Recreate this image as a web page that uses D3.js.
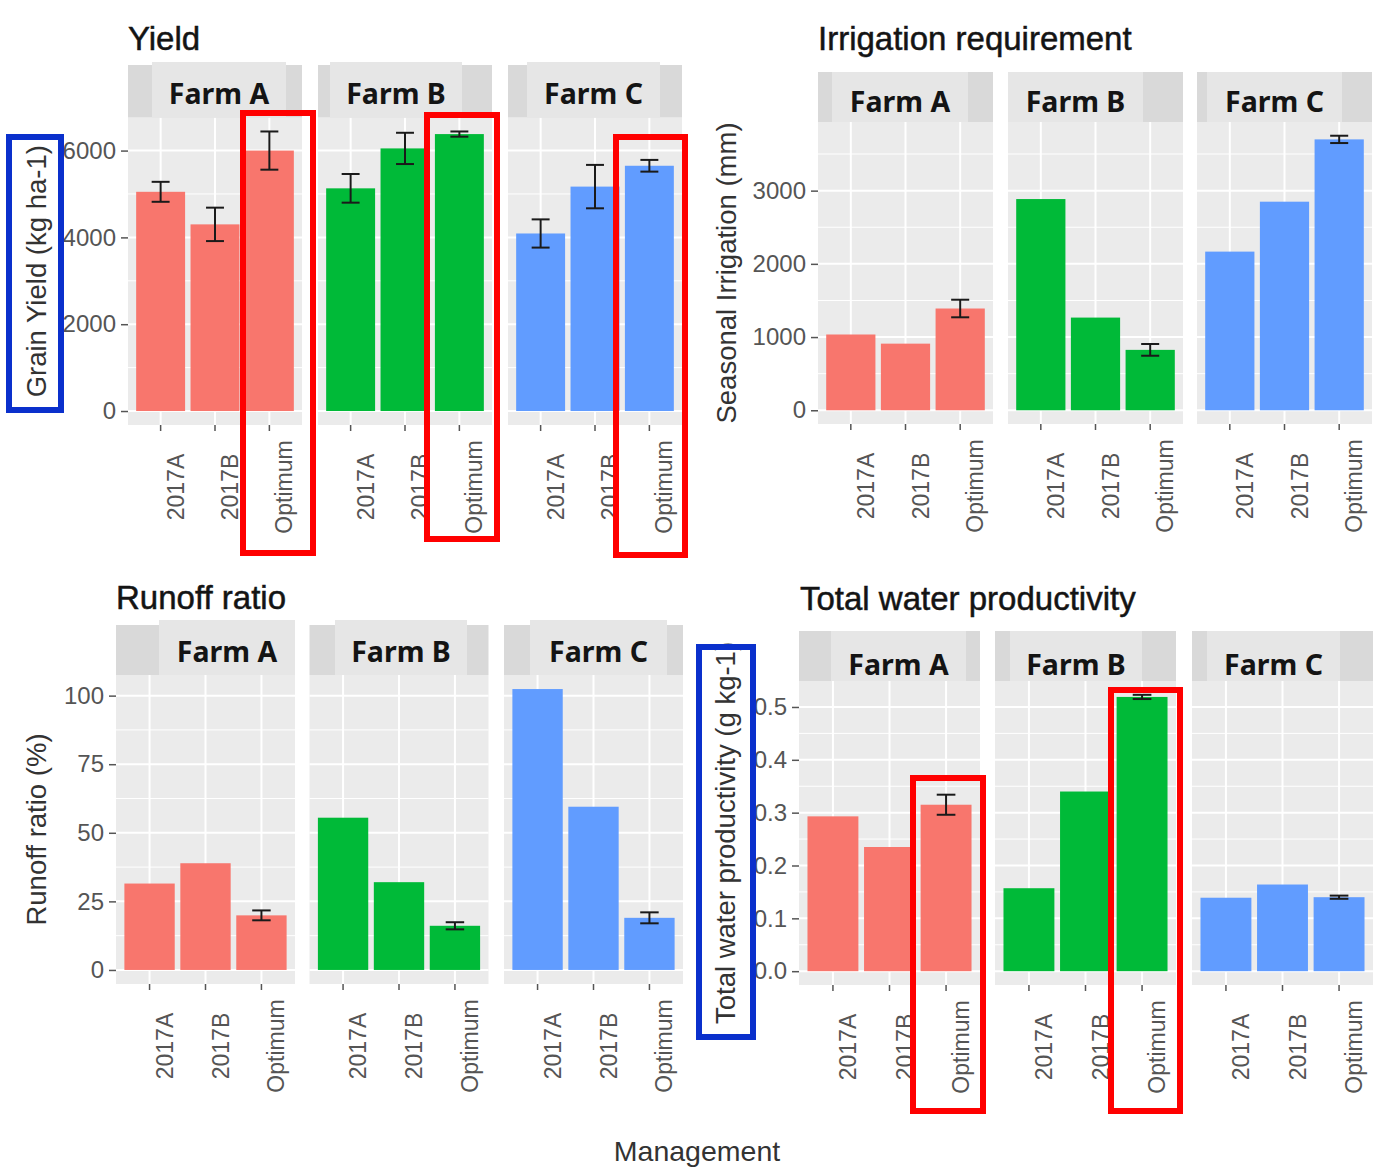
<!DOCTYPE html>
<html>
<head>
<meta charset="utf-8">
<script src="https://cdn.jsdelivr.net/npm/d3@7"></script>
<style>
  body { margin: 0; background: #fff; }
  svg { display: block; }
</style>
</head>
<body>
<svg id="chart" width="1384" height="1175"></svg>
<script>
// ---------------- DATA ----------------
const farms = ["Farm A", "Farm B", "Farm C"];
const management = ["2017A", "2017B", "Optimum"];
const farmColors = ["#F8766D", "#00BA38", "#619CFF"];

const yieldValues = [[5050, 4300, 6000], [5130, 6050, 6380], [4090, 5170, 5650]];
const yieldErrors = [[230, 385, 440], [330, 360, 60], [325, 500, 135]];
const yieldTicks = [0, 2000, 4000, 6000];

const irrigationValues = [[1035, 910, 1390], [2885, 1266, 825], [2167, 2849, 3700]];
const irrigationErrors = [[null, null, 120], [null, null, 80], [null, null, 50]];
const irrigationTicks = [0, 1000, 2000, 3000];

const runoffValues = [[31.5, 38.9, 19.9], [55.5, 32.0, 16.1], [102.4, 59.5, 19.0]];
const runoffErrors = [[null, null, 1.8], [null, null, 1.3], [null, null, 2.0]];
const runoffTicks = [0, 25, 50, 75, 100];

const twpValues = [[0.293, 0.235, 0.315], [0.157, 0.340, 0.519], [0.139, 0.164, 0.140]];
const twpErrors = [[null, null, 0.019], [null, null, 0.004], [null, null, 0.003]];
const twpTicks = [0, 0.1, 0.2, 0.3, 0.4, 0.5];

const plotTitles = ["Yield", "Irrigation requirement", "Runoff ratio", "Total water productivity"];
const yTitles = ["Grain Yield (kg ha-1)", "Seasonal Irrigation (mm)", "Runoff ratio (%)", "Total water productivity (g kg-1)"];
const xTitle = "Management";

// ---------------- LAYOUT ----------------
const layouts = [
  { title: plotTitles[0], titleX: 128, titleY: 50, yTitle: yTitles[0], yTitleX: 46,
    lefts: [128, 318, 508], w: 174, stripTop: 65, boxTop: 62, top: 117.5, bottom: 425,
    boxes: [[152, 286], [330, 462], [527, 660]], labelBase: 104,
    values: yieldValues, errors: yieldErrors, ticks: yieldTicks, fmt: d3.format("d") },
  { title: plotTitles[1], titleX: 818, titleY: 50, yTitle: yTitles[1], yTitleX: 736,
    lefts: [818, 1008, 1197], w: 175, stripTop: 72, boxTop: 72, top: 122, bottom: 424,
    boxes: [[832, 968], [1008, 1143], [1207, 1342]], labelBase: 111.5,
    values: irrigationValues, errors: irrigationErrors, ticks: irrigationTicks, fmt: d3.format("d") },
  { title: plotTitles[2], titleX: 116, titleY: 609, yTitle: yTitles[2], yTitleX: 46,
    lefts: [116, 309.5, 504], w: 179, stripTop: 625, boxTop: 620, top: 675, bottom: 984,
    boxes: [[159, 295], [335, 467], [530, 667]], labelBase: 662,
    values: runoffValues, errors: runoffErrors, ticks: runoffTicks, fmt: d3.format("d") },
  { title: plotTitles[3], titleX: 800, titleY: 610, yTitle: yTitles[3], yTitleX: 735,
    lefts: [799, 995, 1192], w: 181, stripTop: 631, boxTop: 631, top: 681, bottom: 985,
    boxes: [[831, 966], [1010, 1142], [1207, 1340]], labelBase: 674.5,
    values: twpValues, errors: twpErrors, ticks: twpTicks, fmt: d3.format(".1f") }
];

// annotation boxes (stroke centre lines)
const redBoxes = [[243, 113, 313, 553], [427, 115, 497, 539], [616, 137, 685, 555],
                  [913, 778, 983, 1111], [1111, 690, 1180, 1111]];
const blueBoxes = [[9, 137, 61, 410], [699, 647, 753, 1037]];

const FONT = "'Liberation Sans', Arial, sans-serif";
const STRIP_FONT = "'Noto Sans', 'Open Sans', sans-serif";

const svg = d3.select("#chart");
svg.append("rect").attr("width", 1384).attr("height", 1175).attr("fill", "#fff");

layouts.forEach(L => {
  const flatV = L.values.flat();
  const flatE = L.errors.flat();
  const M = d3.max(flatV.map((v, i) => v + (flatE[i] || 0)));
  const y = d3.scaleLinear().domain([-0.05 * M, 1.05 * M]).range([L.bottom, L.top]);
  const step = L.ticks[1] - L.ticks[0];
  const minor = [];
  for (let t = L.ticks[0] - step / 2; t <= y.domain()[1] + 1e-9; t += step) {
    if (t >= y.domain()[0]) minor.push(t);
  }

  farms.forEach((farm, fi) => {
    const x0 = L.lefts[fi];
    const x = d3.scaleBand().domain(management).range([x0, x0 + L.w])
      .paddingInner(0.1).paddingOuter(0.15);
    const g = svg.append("g");

    g.append("rect").attr("x", x0).attr("y", L.top).attr("width", L.w)
      .attr("height", L.bottom - L.top).attr("fill", "#EBEBEB");

    g.selectAll(".minor").data(minor).join("line")
      .attr("x1", x0).attr("x2", x0 + L.w)
      .attr("y1", d => y(d)).attr("y2", d => y(d))
      .attr("stroke", "#fff").attr("stroke-width", 1);
    g.selectAll(".major").data(L.ticks).join("line")
      .attr("x1", x0).attr("x2", x0 + L.w)
      .attr("y1", d => y(d)).attr("y2", d => y(d))
      .attr("stroke", "#fff").attr("stroke-width", 2);
    g.selectAll(".vgrid").data(management).join("line")
      .attr("x1", d => x(d) + x.bandwidth() / 2).attr("x2", d => x(d) + x.bandwidth() / 2)
      .attr("y1", L.top).attr("y2", L.bottom)
      .attr("stroke", "#fff").attr("stroke-width", 2);

    const rows = management.map((m, i) => ({ m, v: L.values[fi][i], e: L.errors[fi][i] }));
    g.selectAll(".bar").data(rows).join("rect")
      .attr("x", d => x(d.m)).attr("width", x.bandwidth())
      .attr("y", d => y(d.v)).attr("height", d => y(0) - y(d.v))
      .attr("fill", farmColors[fi]);

    const capW = x.step() * 0.33;
    const eb = g.selectAll(".eb").data(rows.filter(d => d.e != null)).join("g")
      .attr("stroke", "#1a1a1a").attr("stroke-width", 2).attr("fill", "none");
    eb.append("line")
      .attr("x1", d => x(d.m) + x.bandwidth() / 2).attr("x2", d => x(d.m) + x.bandwidth() / 2)
      .attr("y1", d => y(d.v - d.e)).attr("y2", d => y(d.v + d.e));
    eb.append("line")
      .attr("x1", d => x(d.m) + x.bandwidth() / 2 - capW / 2).attr("x2", d => x(d.m) + x.bandwidth() / 2 + capW / 2)
      .attr("y1", d => y(d.v + d.e)).attr("y2", d => y(d.v + d.e));
    eb.append("line")
      .attr("x1", d => x(d.m) + x.bandwidth() / 2 - capW / 2).attr("x2", d => x(d.m) + x.bandwidth() / 2 + capW / 2)
      .attr("y1", d => y(d.v - d.e)).attr("y2", d => y(d.v - d.e));

    // strip
    g.append("rect").attr("x", x0).attr("y", L.stripTop).attr("width", L.w)
      .attr("height", L.top - L.stripTop).attr("fill", "#D9D9D9");
    const bx = L.boxes[fi];
    g.append("rect").attr("x", bx[0]).attr("y", L.boxTop).attr("width", bx[1] - bx[0])
      .attr("height", L.top - L.boxTop).attr("fill", "#E6E6E6");
    g.append("text").attr("x", (bx[0] + bx[1]) / 2).attr("y", L.labelBase)
      .attr("text-anchor", "middle").attr("font-family", STRIP_FONT)
      .attr("font-weight", 700).attr("font-size", 28.5).attr("fill", "#141414")
      .text(farm);

    // x axis
    const xa = g.append("g").attr("transform", `translate(0,${L.bottom})`)
      .call(d3.axisBottom(x).tickSize(6).tickSizeOuter(0));
    xa.select(".domain").remove();
    xa.selectAll(".tick line").attr("stroke", "#555").attr("stroke-width", 1.5);
    xa.selectAll(".tick text")
      .attr("x", 0).attr("y", 0).attr("dy", null)
      .attr("transform", "translate(23,62) rotate(-90)")
      .attr("text-anchor", "middle")
      .attr("font-family", FONT).attr("font-size", 23).attr("fill", "#555");
  });

  // y axis
  const ya = svg.append("g").attr("transform", `translate(${L.lefts[0]},0)`)
    .call(d3.axisLeft(y).tickValues(L.ticks).tickFormat(L.fmt).tickSize(7).tickPadding(5).tickSizeOuter(0));
  ya.select(".domain").remove();
  ya.selectAll(".tick line").attr("stroke", "#555").attr("stroke-width", 1.5);
  ya.selectAll(".tick text").attr("font-family", FONT).attr("font-size", 24).attr("fill", "#555");

  // titles
  svg.append("text").attr("x", L.titleX).attr("y", L.titleY)
    .attr("font-family", FONT).attr("font-size", 33).attr("fill", "#141414")
    .attr("stroke", "#141414").attr("stroke-width", 0.5)
    .text(L.title);
  svg.append("text")
    .attr("transform", `translate(${L.yTitleX},${(L.top + L.bottom) / 2}) rotate(-90)`)
    .attr("text-anchor", "middle").attr("font-family", FONT).attr("font-size", 27.5)
    .attr("fill", "#333").text(L.yTitle);
});

svg.append("text").attr("x", 697).attr("y", 1161).attr("text-anchor", "middle")
  .attr("font-family", FONT).attr("font-size", 28.5).attr("fill", "#333").text(xTitle);

// annotation boxes
svg.selectAll(".redbox").data(redBoxes).join("rect")
  .attr("x", d => d[0]).attr("y", d => d[1])
  .attr("width", d => d[2] - d[0]).attr("height", d => d[3] - d[1])
  .attr("fill", "none").attr("stroke", "#FF0000").attr("stroke-width", 6);
svg.selectAll(".bluebox").data(blueBoxes).join("rect")
  .attr("x", d => d[0]).attr("y", d => d[1])
  .attr("width", d => d[2] - d[0]).attr("height", d => d[3] - d[1])
  .attr("fill", "none").attr("stroke", "#0A30CC").attr("stroke-width", 6);
</script>
</body>
</html>
